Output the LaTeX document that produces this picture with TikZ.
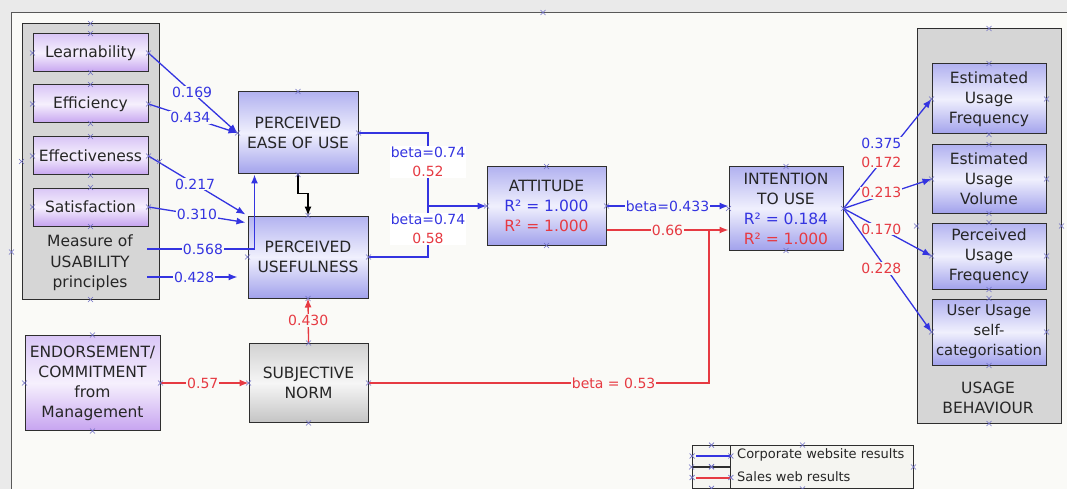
\documentclass[tikz,border=0pt]{standalone}
\usepackage{fontspec}
\setmainfont{DejaVu Sans}
\usetikzlibrary{arrows.meta,calc}

\definecolor{pg}{HTML}{FAFAF7}
\definecolor{outer}{HTML}{EAEAEA}
\definecolor{frm}{HTML}{2E2E2E}
\definecolor{cblue}{HTML}{3434E0}
\definecolor{cred}{HTML}{E63A42}
\definecolor{txt}{HTML}{262626}
\definecolor{xmc}{HTML}{6E6EC4}
\definecolor{pu1}{HTML}{D9C6F6}
\definecolor{pu2}{HTML}{F6F0FD}
\definecolor{pu3}{HTML}{C6A4F0}
\definecolor{bu1}{HTML}{B2B2F0}
\definecolor{bu2}{HTML}{F0F0FD}
\definecolor{bu3}{HTML}{A2A2EC}
\definecolor{gy1}{HTML}{D2D2D2}
\definecolor{gy2}{HTML}{F6F6F6}
\definecolor{gy3}{HTML}{C4C4C4}
\definecolor{grpfill}{HTML}{D6D6D6}
\definecolor{legfill}{HTML}{F5F5F1}

% small connection-point crosses
\newcommand\crossat[1]{\draw[xmc, line width=0.6pt] (#1) ++(-2.5,-2.5) -- ++(5,5) ++(-5,0) -- ++(5,-5);}
\newcommand\crossall[1]{\crossat{#1.north}\crossat{#1.south}\crossat{#1.east}\crossat{#1.west}}

\begin{document}
\begin{tikzpicture}[x=1pt,y=-1pt,
  box/.style={draw=frm, line width=1pt, inner sep=0pt, align=center, text=txt,
    font=\fontsize{15.5}{20}\selectfont},
  purplebox/.style={box, top color=pu1, bottom color=pu3, middle color=pu2},
  bluebox/.style={box, top color=bu1, bottom color=bu3, middle color=bu2},
  graybox/.style={box, top color=gy1, bottom color=gy3, middle color=gy2},
  grp/.style={draw=frm, line width=1pt, fill=grpfill, inner sep=0pt},
  grptext/.style={align=center, text=txt, font=\fontsize{15.5}{20.5}\selectfont},
  arr/.style={-{Latex[length=9pt,width=7pt]}},
  bline/.style={color=cblue, line width=1.3pt},
  rline/.style={color=cred, line width=1.3pt},
  lab/.style={font=\fontsize{14}{19}\selectfont, fill=pg, inner sep=1pt, align=center},
  blab/.style={lab, text=cblue},
  rlab/.style={lab, text=cred},
]
\useasboundingbox (0,0) rectangle (1067,489);

% page and outer frame
\fill[outer] (0,0) rectangle (1067,489);
\fill[pg] (11.5,12.5) rectangle (1067,489);
\draw[frm!80, line width=1pt] (11.5,489) -- (11.5,12.5) -- (1067,12.5);
\coordinate (frametop) at (543,12.5);
\coordinate (frameleft) at (11.5,252);

% group containers
\node[grp, minimum width=137pt, minimum height=275pt] (usab) at (90.5,161.5) {};
\node[grptext] (usabtxt) at (90,263) {Measure of\\USABILITY\\principles};
\node[grp, minimum width=144pt, minimum height=394pt] (usage) at (989,226) {};
\node[grptext] (usagetxt) at (988,398) {USAGE\\BEHAVIOUR};

% usability measures
\node[purplebox, minimum width=115pt, minimum height=38pt] (learn) at (90.5,53) {Learnability};
\node[purplebox, minimum width=115pt, minimum height=38pt] (effic) at (90.5,104) {Efficiency};
\node[purplebox, minimum width=115pt, minimum height=38pt] (effect) at (90.5,156) {Effectiveness};
\node[purplebox, minimum width=115pt, minimum height=38pt] (satis) at (90.5,207) {Satisfaction};

% constructs
\node[bluebox, minimum width=120pt, minimum height=82pt] (peou) at (298,133) {PERCEIVED\\EASE OF USE};
\node[bluebox, minimum width=120pt, minimum height=82pt] (pu) at (308,257) {PERCEIVED\\USEFULNESS};
\node[bluebox, minimum width=119pt, minimum height=78pt] (att) at (546.5,206)
  {ATTITUDE\\\textcolor{cblue}{R² = 1.000}\\\textcolor{cred}{R² = 1.000}};
\node[bluebox, minimum width=114pt, minimum height=83pt] (int) at (786,208.5)
  {INTENTION\\TO USE\\\textcolor{cblue}{R² = 0.184}\\\textcolor{cred}{R² = 1.000}};
\node[purplebox, minimum width=135pt, minimum height=95pt] (endo) at (92.5,383)
  {ENDORSEMENT/\\COMMITMENT\\from\\Management};
\node[graybox, minimum width=119pt, minimum height=79pt] (sn) at (308.5,383) {SUBJECTIVE\\NORM};

% usage behaviour measures
\node[bluebox, minimum width=114pt, minimum height=70pt] (euf) at (989,99) {Estimated\\Usage\\Frequency};
\node[bluebox, minimum width=114pt, minimum height=68pt] (euv) at (989,179) {Estimated\\Usage\\Volume};
\node[bluebox, minimum width=114pt, minimum height=66pt] (puf) at (989,256) {Perceived\\Usage\\Frequency};
\node[bluebox, minimum width=114pt, minimum height=66pt, font=\fontsize{14.8}{20}\selectfont] (uus) at (989,332) {User Usage\\self-\\categorisation};

% free ends and junctions
\coordinate (u1) at (147,249);
\coordinate (u2) at (147,277);
\coordinate (peouin) at ($(peou.south west)+(17,0)$);
\coordinate (jb) at (428,206);
\coordinate (jr) at (709,230);
\coordinate (puin1) at ($(pu.north west)+(-2,-1)$);
\coordinate (puin2) at ($(pu.north west)+(-2,7)$);

% usability -> ease of use / usefulness
\draw[bline, arr] (learn.east) -- node[blab, pos=0.49] {0.169} (peou.west);
\draw[bline, arr] (effic.east) -- node[blab, pos=0.47] {0.434} (peou.west);
\draw[bline, arr] (effect.east) -- node[blab, pos=0.48] {0.217} (puin1);
\draw[bline, arr] (satis.east) -- node[blab, pos=0.5] {0.310} (puin2);
\draw[bline, arr] (u1) -| node[blab, pos=0.26] {0.568} (peouin);
\draw[bline, arr, shorten >=10pt] (u2) -- node[blab, pos=0.47] {0.428} (u2 -| pu.west);

% ease of use -> usefulness
\draw[black, line width=1.2pt, arr] (peou.south) -- ++(0,19) -| (pu.north);

% ease of use / usefulness -> attitude
\draw[bline, arr] (peou.east) -| (jb) -- (att.west);
\draw[bline] (pu.east) -| (jb);
\node[lab, fill=white] (lab1) at (428,162) {\textcolor{cblue}{beta=0.74}\\\textcolor{cred}{0.52}};
\node[lab, fill=white] (lab2) at (428,229) {\textcolor{cblue}{beta=0.74}\\\textcolor{cred}{0.58}};

% attitude -> intention
\draw[bline, arr] (att.east) -- node[blab, pos=0.5] {beta=0.433} (att.east -| int.west);
\draw[rline, arr] ($(att.east)+(0,24)$) -- node[rlab, pos=0.5] {0.66} ($(att.east -| int.west)+(0,24)$);

% endorsement -> subjective norm -> usefulness / intention
\draw[rline, arr] (endo.east) -- node[rlab, pos=0.48] {0.57} (sn.west);
\draw[rline, arr] (sn.north) -- node[rlab, pos=0.5] {0.430} (pu.south);
\draw[rline] (sn.east) -| node[rlab, pos=0.36] {beta = 0.53} (jr);

% intention -> usage behaviour
\draw[bline, arr] (int.east) -- node[lab, pos=0.43, yshift=9pt] {\textcolor{cblue}{0.375}\\\textcolor{cred}{0.172}} (euf.west);
\draw[bline, arr] (int.east) -- node[rlab, pos=0.43, yshift=3pt] {0.213} (euv.west);
\draw[bline, arr] (int.east) -- node[rlab, pos=0.43] {0.170} (puf.west);
\draw[bline, arr] (int.east) -- node[rlab, pos=0.43, yshift=-7pt] {0.228} (uus.west);

% legend
\node[draw=frm, line width=0.9pt, fill=legfill, minimum width=221pt, minimum height=43pt, inner sep=0pt] (legend) at (802.5,467) {};
\node[draw=frm, line width=0.8pt, minimum width=38pt, minimum height=21pt, inner sep=0pt] (legb) at (711.5,456) {};
\node[draw=frm, line width=0.8pt, minimum width=38pt, minimum height=21pt, inner sep=0pt] (legr) at (711.5,477.5) {};
\draw[cblue, line width=2pt] ($(legb.west)+(4,0)$) -- (legb.east);
\draw[cred, line width=2pt] ($(legr.west)+(4,0)$) -- (legr.east);
\node[anchor=west, text=txt, font=\fontsize{13}{15}\selectfont, inner sep=0pt] (legbt) at (737,455) {Corporate website results};
\node[anchor=west, text=txt, font=\fontsize{13}{15}\selectfont, inner sep=0pt] (legrt) at (737,477) {Sales web results};

% connection-point crosses
\crossat{frametop}\crossat{frameleft}
\crossall{usab}\crossall{usage}
\crossall{learn}\crossall{effic}\crossall{effect}\crossall{satis}
\crossall{peou}\crossall{pu}\crossall{att}\crossall{int}
\crossall{endo}\crossall{sn}
\crossall{euf}\crossall{euv}\crossall{puf}\crossall{uus}
\crossall{legend}\crossall{legb}\crossall{legr}
\end{tikzpicture}
\end{document}
